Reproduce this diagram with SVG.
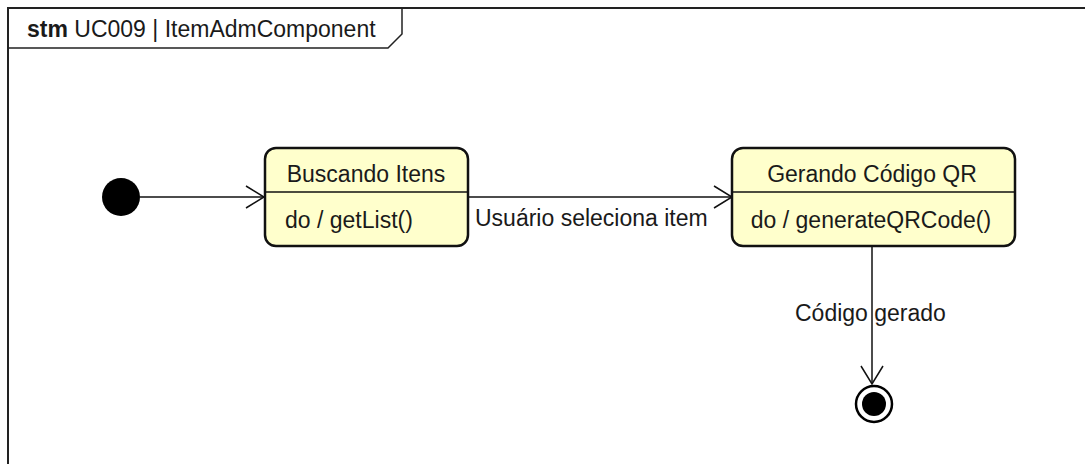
<svg xmlns="http://www.w3.org/2000/svg" width="1085" height="464" viewBox="0 0 1085 464">
<style>
text{font-family:"Liberation Sans",Arial,sans-serif;font-size:23px;fill:#1a1a1a}
.state{fill:#FFFFCC;stroke:#111;stroke-width:2.5}
.div{stroke:#111;stroke-width:1.5}
.conn{stroke:#111;stroke-width:1.5;fill:none}
</style>
<defs>
<marker id="open" viewBox="0 0 20 24" refX="19" refY="12" markerWidth="20" markerHeight="24" markerUnits="userSpaceOnUse" orient="auto">
<path d="M1,1 L19,12 L1,23" fill="none" stroke="#111" stroke-width="1.5"/>
</marker>
</defs>
<rect x="0" y="0" width="1085" height="464" fill="#fff"/>
<g id="frame">
<path d="M8,470 V8 H1090" fill="none" stroke="#222" stroke-width="2"/>
<path d="M8,48 H388 L402,34 V8" fill="none" stroke="#222" stroke-width="1.5"/>
<text x="27" y="37"><tspan font-weight="bold">stm</tspan> UC009 | ItemAdmComponent</text>
</g>
<g id="connectors">
<line class="conn" x1="140" y1="197" x2="264" y2="197" marker-end="url(#open)"/>
<line class="conn" x1="468" y1="197" x2="732" y2="197" marker-end="url(#open)"/>
<line class="conn" x1="872" y1="247" x2="872" y2="384" marker-end="url(#open)"/>
<text x="475" y="226">Usuário seleciona item</text>
<text x="795" y="321">Código gerado</text>
</g>
<g id="initial">
<circle cx="121" cy="197" r="19" fill="#000"/>
</g>
<g id="buscando">
<rect class="state" x="265" y="148" width="203" height="98" rx="11"/>
<line class="div" x1="265" y1="192" x2="468" y2="192"/>
<text x="366" y="182" text-anchor="middle">Buscando Itens</text>
<text x="285" y="228">do / getList()</text>
</g>
<g id="gerando">
<rect class="state" x="732" y="148" width="283" height="98" rx="11"/>
<line class="div" x1="732" y1="192" x2="1015" y2="192"/>
<text x="872" y="182" text-anchor="middle">Gerando Código QR</text>
<text x="871" y="228" text-anchor="middle">do / generateQRCode()</text>
</g>
<g id="final">
<circle cx="874" cy="404" r="18" fill="#fff" stroke="#000" stroke-width="2.5"/>
<circle cx="874" cy="404" r="12" fill="#000"/>
</g>
</svg>
